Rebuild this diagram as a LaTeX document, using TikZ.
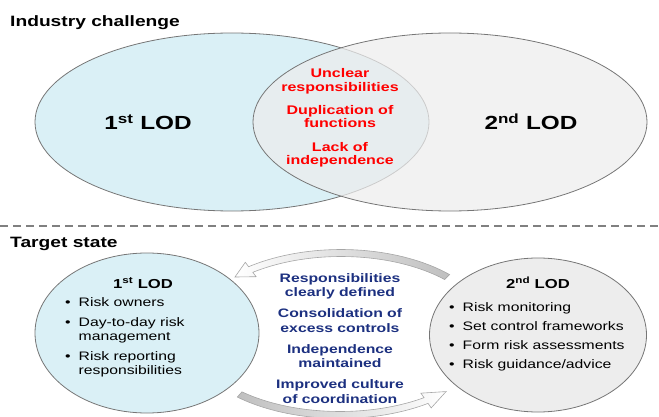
\documentclass[tikz,border=0pt]{standalone}
\usepackage{fontspec}
\setmainfont{Liberation Sans}[FakeStretch=1.28]
\usetikzlibrary{shapes.geometric}
\definecolor{lodblue}{RGB}{218,240,246}
\definecolor{lodgrey}{RGB}{237,237,237}
\definecolor{edgegrey}{RGB}{118,118,118}
\definecolor{navytext}{RGB}{28,48,128}
\begin{document}
\begin{tikzpicture}[x=1pt, y=-1pt, inner sep=0pt,
   lodset/.style={ellipse, draw=edgegrey, line width=0.8pt},
   heading/.style={anchor=base west, font=\bfseries\fontsize{15}{18}\selectfont},
   bigtag/.style={anchor=base, font=\bfseries\fontsize{19}{22}\selectfont},
   smalltag/.style={anchor=base, font=\bfseries\fontsize{13}{16}\selectfont},
   issuelist/.style={anchor=base, align=center, text=red, font=\bfseries\fontsize{12.5}{14}\selectfont},
   gainlist/.style={anchor=base, align=center, text=navytext, font=\bfseries\fontsize{12.3}{14.5}\selectfont},
   dutylist/.style={anchor=base west, font=\fontsize{12.3}{14}\selectfont},
   cyclearrow/.style={draw=gray!70, line width=0.6pt}]
   \useasboundingbox (0,0) rectangle (659,417);
   % industry challenge
   \node (hdtop)   [heading] at (10,27) {Industry challenge};
   \node (lod1set) [lodset, fill=lodblue, minimum width=394pt, minimum height=178pt] at (232,122) {};
   \node (lod2set) [lodset, fill=lodgrey, fill opacity=0.72, minimum width=394pt, minimum height=178pt] at (450,122) {};
   \node (tag1)    [bigtag] at (148,130) {1\textsuperscript{st} LOD};
   \node (tag2)    [bigtag] at (531,130) {2\textsuperscript{nd} LOD};
   \node (issues)  [issuelist] at (340,165) {Unclear\\responsibilities\\[9pt]Duplication of\\functions\\[9pt]Lack of\\independence};
   \draw[gray, line width=1.2pt, dash pattern=on 8pt off 5pt] (0,226) -- (659,226);
   % target state
   \node (hdbot)    [heading] at (10,247) {Target state};
   \node (lod1disc) [lodset, fill=lodblue, minimum width=224pt, minimum height=160pt] at (147,333) {};
   \node (lod2disc) [lodset, fill=lodgrey, minimum width=217pt, minimum height=154pt] at (538,335) {};
   \node (tag1b) [smalltag] at (143,288) {1\textsuperscript{st} LOD};
   \node (tag2b) [smalltag] at (538,288) {2\textsuperscript{nd} LOD};
   \node (duties1) [dutylist] at (65,306) {\begin{tabular}[t]{@{}l@{\hspace{8pt}}l@{}}
      \textbullet & Risk owners\\[6pt]
      \textbullet & Day-to-day risk\\
                  & management\\[6pt]
      \textbullet & Risk reporting\\
                  & responsibilities
   \end{tabular}};
   \node (duties2) [dutylist] at (449,311) {\begin{tabular}[t]{@{}l@{\hspace{8pt}}l@{}}
      \textbullet & Risk monitoring\\[5pt]
      \textbullet & Set control frameworks\\[5pt]
      \textbullet & Form risk assessments\\[5pt]
      \textbullet & Risk guidance/advice
   \end{tabular}};
   \node (gains) [gainlist] at (340,403) {Responsibilities\\clearly defined\\[6.5pt]Consolidation of\\excess controls\\[6.5pt]Independence\\maintained\\[6.5pt]Improved culture\\of coordination};
   % cycle arrows
   \draw[cyclearrow, left color=white, right color=gray!50]
      plot[domain=-45:-127, samples=40] ({341+153.5*cos(\x)}, {335+85.5*sin(\x)})
      -- ({341+159*cos(-127)}, {335+91*sin(-127)})
      -- ({341+150*cos(-135)}, {335+82*sin(-135)})
      -- ({341+141*cos(-127)}, {335+73*sin(-127)})
      -- plot[domain=-127:-45, samples=40] ({341+146.5*cos(\x)}, {335+78.5*sin(\x)})
      -- cycle;
   \draw[cyclearrow, left color=gray!50, right color=white]
      plot[domain=132:55, samples=40] ({340+153.5*cos(\x)}, {335+83.5*sin(\x)})
      -- ({340+159*cos(55)}, {335+89*sin(55)})
      -- ({340+150*cos(45)}, {335+80*sin(45)})
      -- ({340+141*cos(55)}, {335+71*sin(55)})
      -- plot[domain=55:132, samples=40] ({340+146.5*cos(\x)}, {335+76.5*sin(\x)})
      -- cycle;
\end{tikzpicture}
\end{document}
